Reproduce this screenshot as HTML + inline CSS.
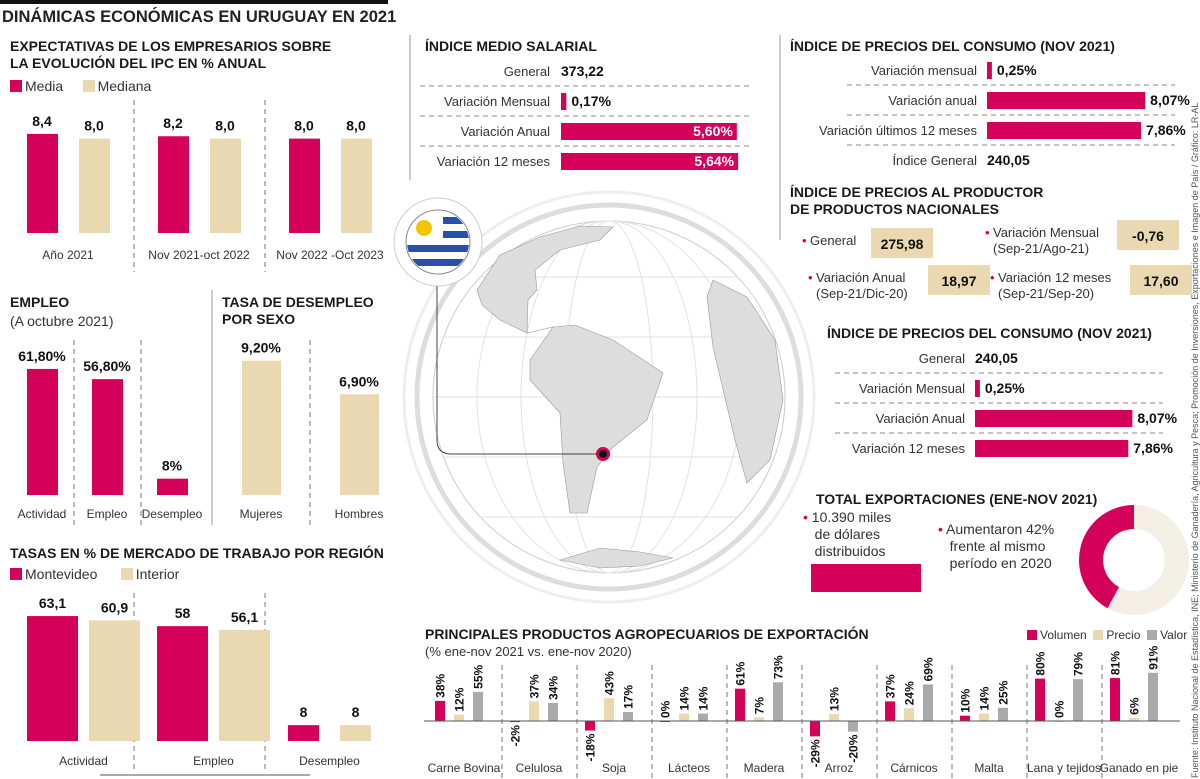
<!DOCTYPE html>
<html><head><meta charset="utf-8">
<style>
body{margin:0;width:1200px;height:779px;background:#fff;position:relative;overflow:hidden;font-family:"Liberation Sans",sans-serif;color:#222}
.a{position:absolute;white-space:nowrap}
.h{font-weight:bold;font-size:14px;color:#1a1a1a;line-height:17px}
.t{font-size:13px;color:#333}
svg{position:absolute;left:0;top:0}
.sw{display:inline-block;width:12px;height:12px;vertical-align:-1px;margin-right:3px}
</style></head><body>
<div class="a" style="left:0;top:0;width:388px;height:4px;background:#111"></div>
<div class="a" style="left:2px;top:8px;font-size:16.5px;font-weight:bold">DINÁMICAS ECONÓMICAS EN URUGUAY EN 2021</div>
<div class="a h" style="left:10px;top:38px">EXPECTATIVAS DE LOS EMPRESARIOS SOBRE<br>LA EVOLUCIÓN DEL IPC EN % ANUAL</div>
<div class="a t" style="left:10px;top:78px;font-size:14px"><span class="sw" style="background:#d4005a"></span>Media &nbsp;&nbsp;&nbsp;&nbsp;<span class="sw" style="background:#e9d8b0"></span>Mediana</div>
<div class="a h" style="left:10px;top:294px">EMPLEO</div>
<div class="a t" style="left:10px;top:313px;font-size:14px">(A octubre 2021)</div>
<div class="a h" style="left:222px;top:294px">TASA DE DESEMPLEO<br>POR SEXO</div>
<div class="a h" style="left:10px;top:545px">TASAS EN % DE MERCADO DE TRABAJO POR REGIÓN</div>
<div class="a t" style="left:10px;top:566px;font-size:14px"><span class="sw" style="background:#d4005a"></span>Montevideo &nbsp;&nbsp;&nbsp;&nbsp;&nbsp;<span class="sw" style="background:#e9d8b0"></span>Interior</div>

<div class="a h" style="left:425px;top:38px">ÍNDICE MEDIO SALARIAL</div>
<div class="a h" style="left:790px;top:38px">ÍNDICE DE PRECIOS DEL CONSUMO (NOV 2021)</div>
<div class="a h" style="left:790px;top:184px">ÍNDICE DE PRECIOS AL PRODUCTOR<br>DE PRODUCTOS NACIONALES</div>
<div class="a h" style="left:827px;top:325px">ÍNDICE DE PRECIOS DEL CONSUMO (NOV 2021)</div>
<div class="a h" style="left:816px;top:491px">TOTAL EXPORTACIONES (ENE-NOV 2021)</div>
<div class="a t" style="left:803px;top:509px;font-size:14px;line-height:17px"><span style="color:#d4005a">•</span> 10.390 miles<br>&nbsp;&nbsp; de dólares<br>&nbsp;&nbsp; distribuidos</div>
<div class="a" style="left:811px;top:564px;width:110px;height:28px;background:#d4005a"></div>
<div class="a t" style="left:938px;top:521px;font-size:14px;line-height:17px"><span style="color:#d4005a">•</span> Aumentaron 42%<br>&nbsp;&nbsp; frente al mismo<br>&nbsp;&nbsp; período en 2020</div>
<div class="a h" style="left:425px;top:626px">PRINCIPALES PRODUCTOS AGROPECUARIOS DE EXPORTACIÓN</div>
<div class="a t" style="left:425px;top:644px;font-size:13px">(% ene-nov 2021 vs. ene-nov 2020)</div>
<div class="a t" style="left:1027px;top:628px;font-size:12px"><span class="sw" style="background:#d4005a;width:10px;height:10px"></span>Volumen &nbsp;<span class="sw" style="background:#e9d8b0;width:10px;height:10px"></span>Precio &nbsp;<span class="sw" style="background:#aaa;width:10px;height:10px"></span>Valor</div>
<div class="a" style="left:1190px;top:778px;transform:rotate(-90deg);transform-origin:0 0;font-size:9px;color:#555">Fuente: Instituto Nacional de Estadística, INE; Ministerio de Ganadería, Agricultura y Pesca; Promoción de Inversiones, Exportaciones e Imagen de País / Gráfico: LR-AL</div>

<svg id="s" width="1200" height="779"><defs><clipPath id="fc"><circle cx="438" cy="242" r="31"/></clipPath></defs></svg>
<script>
const M='#d4005a',B='#e9d8b0',G='#aaa';
// IPC expectations
const ipcCats=['Año 2021','Nov 2021-oct 2022','Nov 2022 -Oct 2023'];
const ipcMedia=[8.4,8.2,8.0];
const ipcMediana=[8.0,8.0,8.0];
// Empleo
const empCats=['Actividad','Empleo','Desempleo'];
const empVals=[61.8,56.8,8];
const empLabels=['61,80%','56,80%','8%'];
// Desempleo por sexo
const sexCats=['Mujeres','Hombres'];
const sexVals=[9.2,6.9];
const sexLabels=['9,20%','6,90%'];
// Region
const regCats=['Actividad','Empleo','Desempleo'];
const regMvd=[63.1,58,8];
const regInt=[60.9,56.1,8];
const regMvdL=['63,1','58','8'];
const regIntL=['60,9','56,1','8'];
// Salarial
const salRows=['Variación Mensual','Variación Anual','Variación 12 meses'];
const salVals=[0.17,5.60,5.64];
const salLabels=['0,17%','5,60%','5,64%'];
// IPC top
const ipcRows=['Variación mensual','Variación anual','Variación últimos 12 meses'];
const ipcVals=[0.25,8.07,7.86];
const ipcLabels=['0,25%','8,07%','7,86%'];
// IPC second
const ipc2Rows=['Variación Mensual','Variación Anual','Variación 12 meses'];
const ipc2Vals=[0.25,8.07,7.86];
const ipc2Labels=['0,25%','8,07%','7,86%'];
// Export share
const exportShare=[42];
// Agro
const agroCats=['Carne Bovina','Celulosa','Soja','Lácteos','Madera','Arroz','Cárnicos','Malta','Lana y tejidos','Ganado en pie'];
const agroVol=[38,-2,-18,0,61,-29,37,10,80,81];
const agroPre=[12,37,43,14,7,13,24,14,0,6];
const agroVal=[55,34,17,14,73,-20,69,25,79,91];

const s=document.getElementById('s');const NS='http://www.w3.org/2000/svg';
function el(t,a,name,txt){const e=document.createElementNS(NS,t);for(const k in a)e.setAttribute(k,a[k]);


if(txt!==undefined)e.textContent=txt;s.appendChild(e);return e;}
function rect(x,y,w,h,f,n){return el('rect',{x:x,y:y,width:w,height:h,fill:f},n);}
function txt(x,y,t,o,n){o=o||{};return el('text',Object.assign({x:x,y:y,'font-family':'Liberation Sans, sans-serif','font-size':12,fill:'#333','text-anchor':'middle'},o),n,t);}
function vdash(x,y1,y2,n){el('line',{x1:x,y1:y1,x2:x,y2:y2,stroke:'#777','stroke-dasharray':'5,4','stroke-width':1},n);}
function hdash(x1,x2,y,n){el('line',{x1:x1,y1:y,x2:x2,y2:y,stroke:'#888','stroke-dasharray':'5,4','stroke-width':1},n);}
const bold={'font-weight':'bold','font-size':14,fill:'#111'};

// Globe
el('circle',{cx:609,cy:397,r:205,fill:'none',stroke:'#eee','stroke-width':3},'globe-ring-outer');
el('circle',{cx:609,cy:397,r:192,fill:'none',stroke:'#ddd','stroke-width':5},'globe-ring');
el('circle',{cx:609,cy:397,r:176,fill:'#fff',stroke:'#ccc','stroke-width':1},'globe');
for(let i=1;i<4;i++){el('ellipse',{cx:609,cy:397,rx:176*i/4,ry:176,fill:'none',stroke:'#e2e2e2'},'meridian');}
for(let i=-2;i<=2;i++){const y=397+i*60;const w=Math.sqrt(Math.max(0,176*176-(i*60)**2));el('line',{x1:609-w,y1:y,x2:609+w,y2:y,stroke:'#e2e2e2'},'parallel');}
el('path',{d:'M477,290 L500,255 L540,237 L580,226 L613,227 L600,240 L560,250 L535,270 L537,290 L528,300 L527,333 L553,327 L530,360 L530,380 L560,413 L563,463 L570,513 L587,513 L597,467 L613,447 L647,420 L663,373 L613,340 L575,325 L553,327 L527,333 L500,320 L482,305 Z',fill:'#ddd',stroke:'#999','stroke-width':.6},'americas-map');
el('path',{d:'M713,280 L747,297 L775,340 L783,400 L770,460 L747,483 L735,440 L713,347 L707,297 Z',fill:'#ddd',stroke:'#999','stroke-width':.6},'africa-map');
el('path',{d:'M560,560 L600,548 L640,552 L673,558 L640,566 L600,568 Z',fill:'#ddd',stroke:'#999','stroke-width':.6},'antarctica-map');
el('circle',{cx:603,cy:454,r:7,fill:M},'uruguay-highlight');
el('circle',{cx:603,cy:454,r:4,fill:'#111'},'uruguay-marker');
el('path',{d:'M437,285 L437,440 Q437,454 451,454 L600,454',fill:'none',stroke:'#444','stroke-width':1},'flag-pointer');
el('circle',{cx:438,cy:242,r:44,fill:'#fff',stroke:'#ccc'},'flag-frame');
el('circle',{cx:438,cy:242,r:32,fill:'#fff',stroke:'#888'},'uruguay-flag');
const fg=el('g',{'clip-path':'url(#fc)'},'flag-stripes');
[[443,217,40],[443,231,40],[400,245,80],[400,259,80]].forEach(r=>{const e=document.createElementNS(NS,'rect');e.setAttribute('x',r[0]);e.setAttribute('y',r[1]);e.setAttribute('width',r[2]);e.setAttribute('height',7);e.setAttribute('fill','#2a4fa8');


fg.appendChild(e);});
el('circle',{cx:424,cy:228,r:8,fill:'#f5c400'},'flag-sun');

// IPC expectation chart
const ipcY0=233,ipcK=11.8;
vdash(134,100,272,'separator');vdash(265,100,272,'separator');
ipcCats.forEach((c,i)=>{const x=27+i*131;
 const h1=ipcMedia[i]*ipcK,h2=ipcMediana[i]*ipcK;
 rect(x,ipcY0-h1,31,h1,M,'bar-media');rect(x+52,ipcY0-h2,31,h2,B,'bar-mediana');
 txt(x+15,ipcY0-h1-8,ipcMedia[i].toFixed(1).replace('.',','),bold,'value-label');
 txt(x+67,ipcY0-h2-8,ipcMediana[i].toFixed(1).replace('.',','),bold,'value-label');
 txt(x+41,259,c,{},'category-label');});

// Empleo
const eY0=495,eK=2.04;
vdash(74,340,525,'separator');vdash(141,340,525,'separator');vdash(310,340,525,'separator');
el('line',{x1:212,y1:290,x2:212,y2:525,stroke:'#999'},'divider');
empCats.forEach((c,i)=>{const x=[27,92,157][i];const h=empVals[i]*eK;
 rect(x,eY0-h,31,h,M,'bar-empleo');txt(x+15,eY0-h-8,empLabels[i],bold,'value-label');
 txt(x+15,518,c,{},'category-label');});
const sK=14.6;
sexCats.forEach((c,i)=>{const x=[242,340][i];const h=sexVals[i]*sK;
 rect(x,eY0-h,39,h,B,'bar-desempleo-sexo');txt(x+19,eY0-h-8,sexLabels[i],bold,'value-label');
 txt(x+19,518,c,{},'category-label');});

// Region
const rY0=741,rK=1.98;
vdash(134,593,770,'separator');vdash(265,593,770,'separator');
regCats.forEach((c,i)=>{const x=[27,157,288][i],w=i==2?31:51,g=i==2?52:62;
 const h1=regMvd[i]*rK,h2=regInt[i]*rK;
 rect(x,rY0-h1,w,h1,M,'bar-montevideo');rect(x+g,rY0-h2,w,h2,B,'bar-interior');
 txt(x+w/2,rY0-h1-8,regMvdL[i],bold,'value-label');txt(x+g+w/2,rY0-h2-8,regIntL[i],bold,'value-label');
 txt(x+(g+w)/2,765,c,{},'category-label');});
el('line',{x1:100,y1:775,x2:310,y2:775,stroke:'#555'},'bottom-rule');

// Horizontal bar tables
function hbars(rows,vals,labels,top0,labelX,barX,k,inside,name,first,dashL){
 let y=top0;
 if(first){txt(labelX,y+5,first[0],{'text-anchor':'end','font-size':13},'row-label');txt(barX,y+5,first[1],Object.assign({},bold,{'text-anchor':'start'}),'row-value');hdash(dashL,barX+188,y+15,'row-separator');y+=30;}
 rows.forEach((r,i)=>{txt(labelX,y+5,r,{'text-anchor':'end','font-size':13},'row-label');
  const w=vals[i]*k;rect(barX,y-8,w,17,M,name);
  if(inside&&w>60)txt(barX+w-4,y+5,labels[i],Object.assign({},bold,{'text-anchor':'end',fill:'#fff'}),'bar-value');
  else txt(barX+w+5,y+5,labels[i],Object.assign({},bold,{'text-anchor':'start'}),'bar-value');
  if(i<rows.length-1||first===null)hdash(dashL,barX+188,y+15,'row-separator');y+=30;});
}
el('line',{x1:410,y1:35,x2:410,y2:180,stroke:'#999'},'divider');
el('line',{x1:780,y1:35,x2:780,y2:240,stroke:'#999'},'divider');
hbars(salRows,salVals,salLabels,71,550,561,31.4,true,'bar-salarial',['General','373,22'],420);
hbars(ipcRows,ipcVals,ipcLabels,70,977,987,19.6,false,'bar-ipc',null,847);
txt(977,165,'Índice General',{'text-anchor':'end','font-size':13},'row-label');txt(987,165,'240,05',Object.assign({},bold,{'text-anchor':'start'}),'row-value');
hbars(ipc2Rows,ipc2Vals,ipc2Labels,358,965,975,19.5,false,'bar-ipc2',['General','240,05'],835);

// IPP boxes
function ipp(x,y,lab,sub,val,bx){txt(x,y,'•',{'text-anchor':'start',fill:M,'font-size':13},'bullet');
 txt(x+8,y,lab,{'text-anchor':'start','font-size':13},'ipp-label');if(sub)txt(x+8,y+16,sub,{'text-anchor':'start','font-size':13},'ipp-label');
 rect(bx,y-17,62,30,B,'ipp-box');txt(bx+31,y+4,val,bold,'ipp-value');}
ipp(802,245,'General',null,'275,98',871);
ipp(985,237,'Variación Mensual','(Sep-21/Ago-21)','-0,76',1117);
ipp(808,282,'Variación Anual','(Sep-21/Dic-20)','18,97',928);
ipp(990,282,'Variación 12 meses','(Sep-21/Sep-20)','17,60',1130);

// Donut
const cx=1134,cy=560,R=55,r=31;
function arc(a0,a1,f,n){const p=(a,rr)=>[cx+rr*Math.sin(a),cy-rr*Math.cos(a)];const l=Math.abs(a1-a0)>Math.PI?1:0;
 const [x0,y0]=p(a0,R),[x1,y1]=p(a1,R),[x2,y2]=p(a1,r),[x3,y3]=p(a0,r);
 el('path',{d:`M${x0},${y0}A${R},${R} 0 ${l} 1 ${x1},${y1}L${x2},${y2}A${r},${r} 0 ${l} 0 ${x3},${y3}Z`,fill:f},n);}
const sh=exportShare[0]/100*2*Math.PI;
arc(0,2*Math.PI-sh,'#f4efe6','donut-rest');arc(2*Math.PI-sh,2*Math.PI-0.0001,M,'donut-growth');

// Agro chart
const aY0=721,aK=0.53,gx0=427,gw=75;
const ser=[agroVol,agroPre,agroVal],cols=[M,B,G];
agroCats.forEach((c,i)=>{const gx=gx0+i*gw;
 if(i>0)vdash(gx,665,779,'separator');
 ser.forEach((arr,j)=>{const v=arr[i];const x=gx+8+j*19;const h=Math.abs(v)*aK;
  rect(x,v>=0?aY0-h:aY0,10,Math.max(h,1),cols[j],'bar-agro');
  const ty=v>=0?aY0-h-3:aY0+h+3;
  txt(x+5,ty,v+'%',{'font-weight':'bold','font-size':12,fill:'#111','text-anchor':v>=0?'start':'end',transform:`rotate(-90 ${x+5} ${ty})`,dy:4.5},'bar-value');});
 txt(gx+37,772,c,{},'category-label');});
el('line',{x1:424,y1:aY0,x2:1180,y2:aY0,stroke:'#555'},'zero-line');
</script>
</body></html>
